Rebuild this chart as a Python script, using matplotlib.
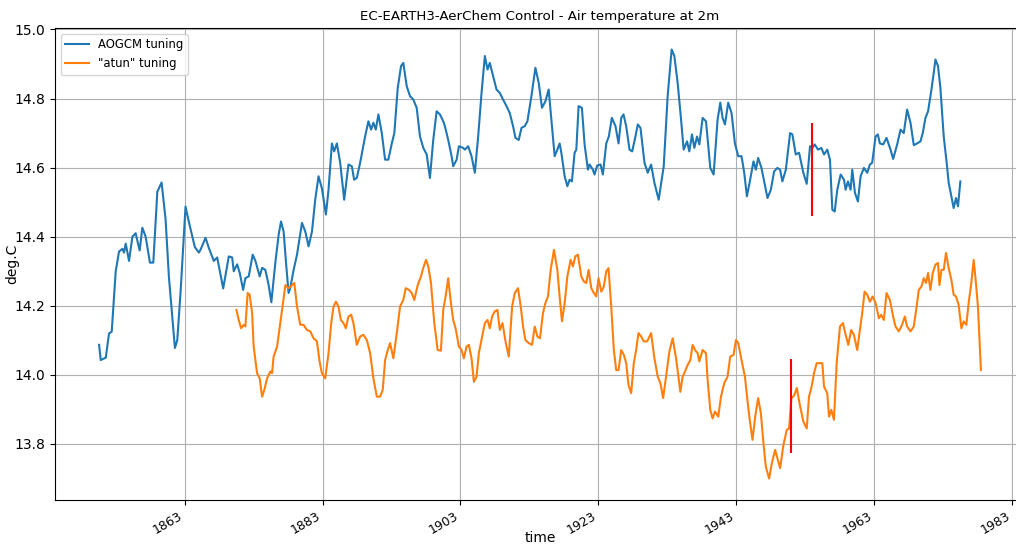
import matplotlib
matplotlib.use("Agg")
import matplotlib.pyplot as plt

# AOGCM tuning (blue), decimal year / deg.C
aogcm_year = [1850.61, 1850.85, 1851.58, 1852.05, 1852.44, 1853.02, 1853.50, 1853.99, 1854.22, 1854.47,
              1854.95, 1855.44, 1855.91, 1856.49, 1856.88, 1857.36, 1857.98, 1858.47, 1859.05, 1859.67,
              1860.25, 1860.73, 1861.60, 1861.94, 1862.42, 1863.14, 1863.62, 1864.49, 1865.07, 1865.31,
              1866.04, 1866.51, 1867.24, 1867.73, 1868.60, 1869.41, 1869.90, 1870.13, 1870.62, 1871.00,
              1871.49, 1871.82, 1872.30, 1872.88, 1873.27, 1873.89, 1874.24, 1874.71, 1875.19, 1875.58,
              1876.16, 1876.64, 1876.98, 1877.36, 1877.75, 1878.08, 1878.33, 1878.81, 1879.30, 1880.02,
              1880.50, 1880.98, 1881.47, 1881.94, 1882.42, 1882.91, 1883.49, 1883.87, 1884.36, 1884.69,
              1885.08, 1885.56, 1886.14, 1886.76, 1887.25, 1887.58, 1887.97, 1888.45, 1889.17, 1889.65,
              1890.04, 1890.37, 1890.72, 1891.10, 1891.59, 1892.07, 1892.54, 1893.04, 1893.41, 1893.90,
              1894.38, 1894.71, 1895.20, 1895.68, 1896.16, 1896.65, 1897.13, 1897.61, 1898.10, 1898.57,
              1899.05, 1899.54, 1900.02, 1900.50, 1900.74, 1901.22, 1901.71, 1901.94, 1902.44, 1902.77,
              1903.39, 1903.64, 1904.11, 1904.60, 1905.08, 1905.56, 1906.05, 1906.53, 1906.92, 1907.25,
              1907.73, 1908.22, 1908.70, 1909.17, 1909.67, 1910.14, 1910.62, 1910.97, 1911.44, 1911.84,
              1912.31, 1912.70, 1913.28, 1913.86, 1914.34, 1914.81, 1915.31, 1915.78, 1916.17, 1916.65,
              1917.04, 1917.37, 1917.62, 1918.10, 1918.49, 1918.82, 1919.15, 1919.54, 1919.79, 1920.12,
              1920.60, 1920.99, 1921.47, 1921.71, 1922.19, 1922.43, 1922.82, 1923.30, 1923.64, 1924.13,
              1924.50, 1924.94, 1925.47, 1925.91, 1926.30, 1926.63, 1927.02, 1927.50, 1927.89, 1928.36,
              1928.70, 1929.09, 1929.67, 1930.14, 1930.63, 1931.11, 1931.73, 1932.46, 1933.03, 1933.61,
              1934.00, 1934.48, 1934.97, 1935.35, 1935.84, 1936.17, 1936.56, 1936.90, 1937.29, 1937.62,
              1938.10, 1938.59, 1939.21, 1939.69, 1940.27, 1940.66, 1940.99, 1941.34, 1941.81, 1942.29,
              1942.78, 1943.26, 1943.74, 1944.13, 1944.52, 1944.99, 1945.47, 1945.82, 1946.15, 1946.63,
              1947.02, 1947.50, 1947.99, 1948.46, 1948.94, 1949.33, 1949.66, 1950.16, 1950.78, 1951.11,
              1951.60, 1952.08, 1952.70, 1953.19, 1953.67, 1954.00, 1954.35, 1954.83, 1955.31, 1955.70,
              1956.17, 1956.56, 1956.90, 1957.24, 1957.62, 1958.11, 1958.59, 1958.83, 1959.17, 1959.55,
              1959.79, 1960.18, 1960.61, 1961.00, 1961.48, 1961.96, 1962.35, 1962.68, 1963.17, 1963.50,
              1963.79, 1964.27, 1964.76, 1965.34, 1965.72, 1966.30, 1966.79, 1967.26, 1967.74, 1968.23,
              1968.71, 1969.19, 1969.68, 1970.01, 1970.40, 1970.78, 1971.27, 1971.60, 1971.85, 1972.22,
              1972.57, 1973.05, 1973.53, 1973.77, 1974.16, 1974.49, 1974.83, 1975.12, 1975.46]
aogcm_tas = [14.087, 14.043, 14.050, 14.120, 14.125, 14.300, 14.357, 14.365, 14.354, 14.380,
             14.330, 14.400, 14.410, 14.360, 14.426, 14.400, 14.325, 14.325, 14.530, 14.557,
             14.450, 14.284, 14.078, 14.100, 14.240, 14.487, 14.443, 14.370, 14.354, 14.362,
             14.397, 14.368, 14.330, 14.340, 14.250, 14.343, 14.340, 14.300, 14.320, 14.295,
             14.246, 14.280, 14.285, 14.348, 14.330, 14.285, 14.310, 14.304, 14.260, 14.210,
             14.325, 14.406, 14.444, 14.415, 14.314, 14.237, 14.252, 14.304, 14.348, 14.440,
             14.415, 14.372, 14.415, 14.507, 14.575, 14.540, 14.464, 14.536, 14.670, 14.647,
             14.670, 14.614, 14.507, 14.609, 14.604, 14.565, 14.570, 14.614, 14.690, 14.734,
             14.710, 14.730, 14.710, 14.754, 14.700, 14.623, 14.623, 14.670, 14.700, 14.830,
             14.894, 14.903, 14.836, 14.807, 14.797, 14.773, 14.690, 14.657, 14.638, 14.570,
             14.680, 14.763, 14.754, 14.734, 14.720, 14.680, 14.633, 14.604, 14.623, 14.662,
             14.657, 14.652, 14.662, 14.633, 14.585, 14.690, 14.816, 14.923, 14.884, 14.903,
             14.865, 14.826, 14.816, 14.797, 14.778, 14.758, 14.720, 14.686, 14.680, 14.715,
             14.720, 14.734, 14.807, 14.889, 14.845, 14.773, 14.792, 14.826, 14.739, 14.633,
             14.652, 14.670, 14.643, 14.575, 14.546, 14.565, 14.560, 14.643, 14.652, 14.778,
             14.773, 14.667, 14.594, 14.609, 14.594, 14.580, 14.606, 14.609, 14.580, 14.670,
             14.690, 14.744, 14.720, 14.670, 14.744, 14.754, 14.720, 14.652, 14.647, 14.690,
             14.725, 14.715, 14.614, 14.585, 14.609, 14.556, 14.507, 14.604, 14.807, 14.942,
             14.923, 14.845, 14.740, 14.652, 14.676, 14.647, 14.696, 14.657, 14.690, 14.667,
             14.744, 14.734, 14.599, 14.580, 14.739, 14.788, 14.744, 14.725, 14.788, 14.758,
             14.670, 14.633, 14.633, 14.585, 14.517, 14.565, 14.618, 14.594, 14.628, 14.599,
             14.560, 14.512, 14.536, 14.589, 14.599, 14.594, 14.560, 14.594, 14.700, 14.696,
             14.638, 14.643, 14.585, 14.553, 14.662, 14.657, 14.667, 14.652, 14.657, 14.638,
             14.652, 14.623, 14.478, 14.473, 14.536, 14.580, 14.565, 14.536, 14.560, 14.536,
             14.594, 14.527, 14.502, 14.575, 14.599, 14.585, 14.609, 14.614, 14.690, 14.696,
             14.670, 14.667, 14.686, 14.652, 14.625, 14.667, 14.710, 14.700, 14.768, 14.730,
             14.665, 14.670, 14.676, 14.700, 14.744, 14.763, 14.826, 14.874, 14.913, 14.894,
             14.830, 14.690, 14.604, 14.556, 14.517, 14.483, 14.512, 14.488, 14.560]

# "atun" tuning (orange)
atun_year = [1870.52, 1870.85, 1871.20, 1871.58, 1871.82, 1872.15, 1872.44, 1872.79, 1873.02, 1873.51,
             1873.89, 1874.24, 1874.57, 1874.96, 1875.44, 1875.68, 1875.91, 1876.41, 1876.88, 1877.27,
             1877.61, 1878.08, 1878.57, 1878.91, 1879.30, 1879.77, 1880.25, 1880.74, 1881.22, 1881.70,
             1882.19, 1882.57, 1882.91, 1883.39, 1883.87, 1884.26, 1884.59, 1884.94, 1885.31, 1885.66,
             1886.04, 1886.38, 1886.76, 1887.15, 1887.48, 1887.97, 1888.45, 1888.93, 1889.42, 1889.90,
             1890.37, 1890.87, 1891.34, 1891.73, 1892.07, 1892.46, 1892.79, 1893.27, 1893.76, 1894.24,
             1894.71, 1895.06, 1895.54, 1895.93, 1896.30, 1896.80, 1897.27, 1897.61, 1898.00, 1898.33,
             1898.72, 1899.20, 1899.69, 1900.16, 1900.50, 1900.84, 1901.22, 1901.61, 1901.94, 1902.29,
             1902.77, 1903.16, 1903.49, 1903.88, 1904.21, 1904.60, 1904.94, 1905.33, 1905.66, 1906.14,
             1906.53, 1906.92, 1907.25, 1907.58, 1907.97, 1908.36, 1908.70, 1909.09, 1909.52, 1910.00,
             1910.48, 1910.87, 1911.34, 1911.73, 1912.07, 1912.41, 1912.89, 1913.37, 1913.76, 1914.15,
             1914.52, 1914.96, 1915.31, 1915.68, 1916.07, 1916.55, 1917.04, 1917.37, 1917.71, 1918.10,
             1918.49, 1918.96, 1919.30, 1919.64, 1920.02, 1920.51, 1920.89, 1921.23, 1921.57, 1921.96,
             1922.33, 1922.68, 1923.01, 1923.40, 1923.78, 1924.13, 1924.46, 1924.85, 1925.23, 1925.57,
             1925.91, 1926.30, 1926.67, 1927.02, 1927.35, 1927.74, 1928.12, 1928.46, 1928.80, 1929.19,
             1929.56, 1930.06, 1930.63, 1931.11, 1931.59, 1931.98, 1932.37, 1932.80, 1933.28, 1933.76,
             1934.25, 1934.87, 1935.20, 1935.55, 1935.93, 1936.32, 1936.65, 1937.00, 1937.37, 1937.62,
             1938.10, 1938.59, 1938.82, 1939.21, 1939.54, 1939.89, 1940.37, 1940.76, 1941.23, 1941.71,
             1942.10, 1942.58, 1942.93, 1943.26, 1943.74, 1944.23, 1944.70, 1944.99, 1945.33, 1945.72,
             1946.15, 1946.54, 1946.92, 1947.26, 1947.74, 1948.13, 1948.61, 1948.94, 1949.33, 1949.81,
             1950.30, 1950.63, 1950.97, 1951.36, 1951.75, 1952.22, 1952.70, 1953.19, 1953.52, 1953.86,
             1954.25, 1954.64, 1955.45, 1955.70, 1956.17, 1956.42, 1956.75, 1957.14, 1957.53, 1958.01,
             1958.44, 1958.83, 1959.21, 1959.64, 1960.03, 1960.51, 1960.90, 1961.23, 1961.58, 1961.96,
             1962.35, 1962.74, 1963.17, 1963.65, 1963.98, 1964.37, 1964.76, 1965.24, 1965.72, 1966.06,
             1966.54, 1967.02, 1967.41, 1967.74, 1968.23, 1968.71, 1969.19, 1969.43, 1969.82, 1970.16,
             1970.49, 1970.78, 1971.12, 1971.46, 1971.85, 1972.22, 1972.43, 1972.72, 1973.05, 1973.38,
             1973.77, 1974.16, 1974.49, 1974.83, 1975.21, 1975.61, 1975.94, 1976.33, 1976.66, 1977.05,
             1977.39, 1977.72, 1978.01, 1978.44]
atun_tas = [14.188, 14.159, 14.135, 14.145, 14.140, 14.237, 14.232, 14.179, 14.082, 14.005,
            13.990, 13.937, 13.957, 13.990, 14.010, 14.005, 14.053, 14.082, 14.150, 14.208,
            14.260, 14.251, 14.260, 14.266, 14.198, 14.145, 14.145, 14.130, 14.126, 14.106,
            14.097, 14.039, 14.005, 13.990, 14.063, 14.150, 14.198, 14.212, 14.198, 14.159,
            14.150, 14.135, 14.169, 14.174, 14.150, 14.087, 14.111, 14.116, 14.101, 14.063,
            13.990, 13.937, 13.937, 13.957, 14.043, 14.072, 14.092, 14.048, 14.121, 14.198,
            14.217, 14.251, 14.246, 14.237, 14.217, 14.260, 14.285, 14.310, 14.333, 14.314,
            14.266, 14.150, 14.072, 14.070, 14.188, 14.227, 14.280, 14.208, 14.159, 14.135,
            14.082, 14.072, 14.048, 14.082, 14.087, 14.048, 13.980, 13.995, 14.063, 14.111,
            14.150, 14.159, 14.135, 14.169, 14.184, 14.188, 14.130, 14.150, 14.097, 14.053,
            14.198, 14.237, 14.251, 14.198, 14.140, 14.101, 14.092, 14.087, 14.140, 14.111,
            14.106, 14.179, 14.208, 14.227, 14.304, 14.362, 14.304, 14.227, 14.155, 14.208,
            14.285, 14.333, 14.314, 14.343, 14.348, 14.285, 14.270, 14.266, 14.304, 14.251,
            14.237, 14.227, 14.280, 14.241, 14.256, 14.300, 14.309, 14.198, 14.072, 14.014,
            14.014, 14.072, 14.058, 14.034, 13.971, 13.947, 14.034, 14.072, 14.121, 14.111,
            14.097, 14.097, 14.121, 14.048, 13.995, 13.976, 13.933, 13.995, 14.068, 14.106,
            14.048, 13.951, 13.995, 14.010, 14.029, 14.043, 14.087, 14.072, 14.063, 14.039,
            14.072, 14.063, 13.986, 13.899, 13.874, 13.894, 13.879, 13.937, 13.976, 13.995,
            14.053, 14.058, 14.101, 14.092, 14.043, 13.995, 13.908, 13.860, 13.812, 13.879,
            13.933, 13.889, 13.802, 13.734, 13.700, 13.744, 13.783, 13.759, 13.730, 13.797,
            13.841, 13.845, 13.933, 13.940, 13.962, 13.910, 13.865, 13.845, 13.937, 13.962,
            14.005, 14.034, 14.034, 13.966, 13.947, 13.879, 13.899, 13.870, 14.034, 14.140,
            14.150, 14.116, 14.087, 14.130, 14.116, 14.072, 14.130, 14.179, 14.241, 14.232,
            14.212, 14.227, 14.208, 14.164, 14.174, 14.159, 14.237, 14.217, 14.169, 14.140,
            14.126, 14.145, 14.169, 14.140, 14.126, 14.140, 14.208, 14.246, 14.256, 14.280,
            14.266, 14.295, 14.246, 14.295, 14.319, 14.324, 14.260, 14.304, 14.304, 14.353,
            14.309, 14.275, 14.232, 14.227, 14.203, 14.135, 14.155, 14.145, 14.208, 14.266,
            14.333, 14.266, 14.198, 14.014]

# red markers
mark_year = [1953.9, 1950.97]
mark_lo = [14.459, 13.773]
mark_hi = [14.730, 14.045]

tick_years = [1863, 1883, 1903, 1923, 1943, 1963, 1983]

fig = plt.figure(figsize=(10.16, 5.44), dpi=100)
# axes run a little past the right edge, like the cropped original
ax = fig.add_axes([55 / 1016, 44 / 544, 970 / 1016, 472 / 544])
ax.plot(aogcm_year, aogcm_tas, label='AOGCM tuning')
ax.plot(atun_year, atun_tas, label='"atun" tuning')
ax.vlines(mark_year, mark_lo, mark_hi, colors='r')
ax.set_xticks(tick_years)
ax.set_xticklabels([str(y) for y in tick_years], rotation=30, ha='right', fontsize=9)
ax.grid(True)
ax.legend(loc='upper left', fontsize='small')
ax.set_title('EC-EARTH3-AerChem Control - Air temperature at 2m', fontsize=9.6)
ax.set_xlabel('time', va='top')
ax.xaxis.set_label_coords(0.5, -0.065)
ax.set_ylabel('deg.C')
ax.yaxis.set_label_coords(-0.037, 0.5)
fig.savefig('out.png', dpi=100)
